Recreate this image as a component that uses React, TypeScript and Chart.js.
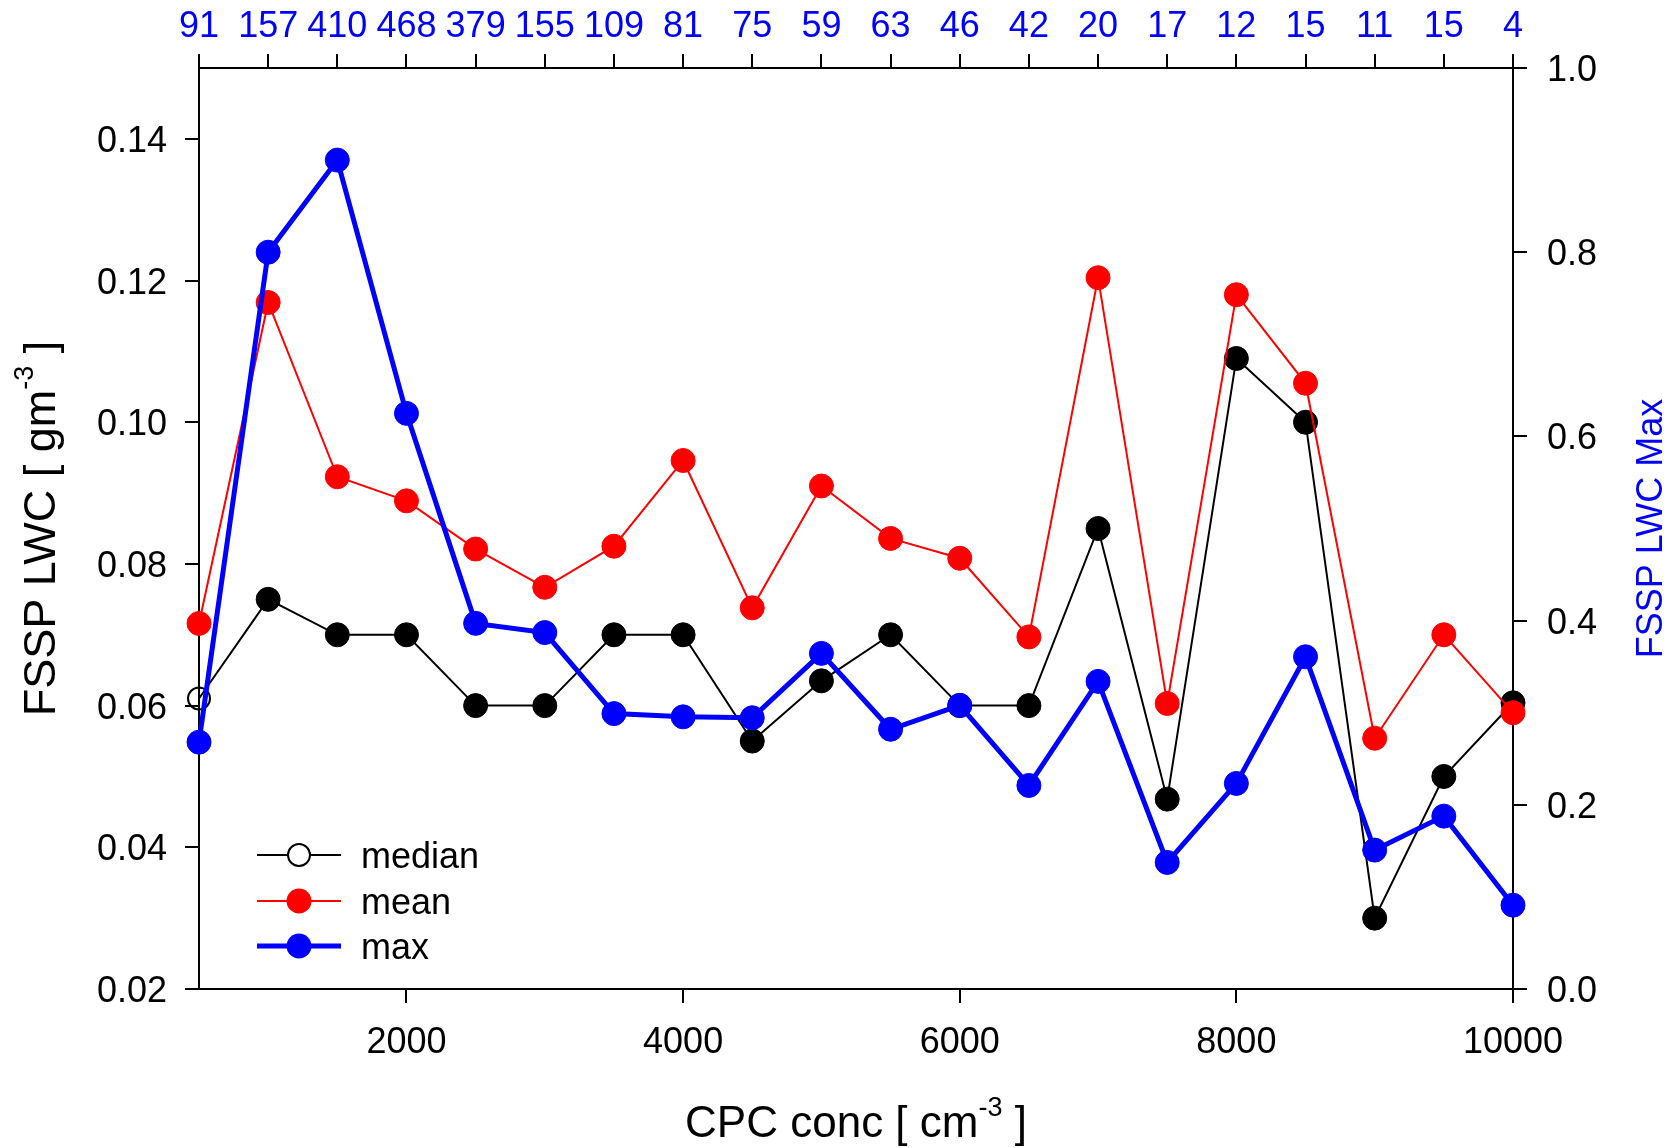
import { useEffect, useRef } from "react";
import { Chart, registerables } from "chart.js";

Chart.register(...registerables);

// CPC concentration bins (cm^-3)
const cpcConc = [
  500, 1000, 1500, 2000, 2500, 3000, 3500, 4000, 4500, 5000,
  5500, 6000, 6500, 7000, 7500, 8000, 8500, 9000, 9500, 10000,
];

// number of samples in each bin (top axis labels)
const sampleCounts = [91, 157, 410, 468, 379, 155, 109, 81, 75, 59, 63, 46, 42, 20, 17, 12, 15, 11, 15, 4];

// FSSP LWC statistics per bin (g m^-3)
const lwcMedian = [
  0.061, 0.075, 0.07, 0.07, 0.06, 0.06, 0.07, 0.07, 0.055, 0.0635,
  0.07, 0.06, 0.06, 0.085, 0.0468, 0.109, 0.1, 0.03, 0.05, 0.0604,
];
const lwcMean = [
  0.0716, 0.1169, 0.0923, 0.0889, 0.0821, 0.0767, 0.0825, 0.0946, 0.0738, 0.091,
  0.0836, 0.0808, 0.0697, 0.1204, 0.0603, 0.118, 0.1055, 0.0554, 0.07, 0.059,
];
const lwcMax = [
  0.268, 0.8, 0.9, 0.625, 0.397, 0.387, 0.299, 0.2955, 0.2945, 0.3644,
  0.282, 0.308, 0.221, 0.334, 0.1374, 0.2232, 0.3607, 0.1508, 0.1877, 0.091,
];

const bottomTicks = [2000, 4000, 6000, 8000, 10000];
const leftTicks = [0.02, 0.04, 0.06, 0.08, 0.1, 0.12, 0.14];
const rightTicks = [0, 0.2, 0.4, 0.6, 0.8, 1.0];

const FONT = '"Liberation Sans", Arial, Helvetica, sans-serif';
const BLACK = "#000000";
const RED = "#ff0000";
const BLUE = "#0000ff";

type Seg = { text: string; size: number; dy: number };

// draws text made of runs with different sizes / baseline shifts, centred on cx
function drawRich(ctx: CanvasRenderingContext2D, segs: Seg[], cx: number, baseY: number) {
  let total = 0;
  const widths = segs.map((s) => {
    ctx.font = `${s.size}px ${FONT}`;
    const w = ctx.measureText(s.text).width;
    total += w;
    return w;
  });
  let x = cx - total / 2;
  ctx.textAlign = "left";
  ctx.textBaseline = "alphabetic";
  segs.forEach((s, i) => {
    ctx.font = `${s.size}px ${FONT}`;
    ctx.fillText(s.text, x, baseY + s.dy);
    x += widths[i];
  });
}

const axisTextPlugin = {
  id: "axisText",
  afterDraw(chart: any) {
    const { ctx, chartArea, scales } = chart;
    const sx = scales.x;
    const sx2 = scales.x2;
    const sy = scales.y;
    const sy2 = scales.y2;
    ctx.save();

    // bottom tick labels
    ctx.fillStyle = BLACK;
    ctx.font = `36px ${FONT}`;
    ctx.textAlign = "center";
    ctx.textBaseline = "alphabetic";
    bottomTicks.forEach((v) => {
      ctx.fillText(String(v), sx.getPixelForValue(v), chartArea.bottom + 64);
    });

    // top labels: sample counts
    ctx.fillStyle = BLUE;
    cpcConc.forEach((v, i) => {
      ctx.fillText(String(sampleCounts[i]), sx2.getPixelForValue(v), chartArea.top - 31);
    });

    // left tick labels
    ctx.fillStyle = BLACK;
    ctx.textAlign = "right";
    leftTicks.forEach((v) => {
      ctx.fillText(v.toFixed(2), chartArea.left - 32, sy.getPixelForValue(v) + 13);
    });

    // right tick labels
    ctx.textAlign = "left";
    rightTicks.forEach((v) => {
      ctx.fillText(v.toFixed(1), chartArea.right + 34, sy2.getPixelForValue(v) + 13);
    });

    const cx = (chartArea.left + chartArea.right) / 2;
    const cy = (chartArea.top + chartArea.bottom) / 2;

    // x axis title
    drawRich(
      ctx,
      [
        { text: "CPC conc [ cm", size: 44, dy: 0 },
        { text: "-3", size: 27, dy: -21 },
        { text: " ]", size: 44, dy: 0 },
      ],
      cx,
      chartArea.bottom + 148
    );

    // left y axis title
    ctx.save();
    ctx.translate(chartArea.left - 144, cy);
    ctx.rotate(-Math.PI / 2);
    drawRich(
      ctx,
      [
        { text: "FSSP LWC [ gm", size: 45, dy: 0 },
        { text: "-3", size: 27, dy: -22 },
        { text: " ]", size: 45, dy: 0 },
      ],
      0,
      0
    );
    ctx.restore();

    // right y axis title
    ctx.save();
    ctx.fillStyle = BLUE;
    ctx.translate(chartArea.right + 149, cy);
    ctx.rotate(-Math.PI / 2);
    drawRich(ctx, [{ text: "FSSP LWC Max", size: 36, dy: 0 }], 0, 0);
    ctx.restore();

    // legend
    const items = [
      { label: "median", color: BLACK, width: 2, open: true, dy: -134 },
      { label: "mean", color: RED, width: 2, open: false, dy: -88 },
      { label: "max", color: BLUE, width: 5, open: false, dy: -43 },
    ];
    items.forEach((it) => {
      const ly = chartArea.bottom + it.dy;
      ctx.strokeStyle = it.color;
      ctx.lineWidth = it.width;
      ctx.beginPath();
      ctx.moveTo(chartArea.left + 58, ly);
      ctx.lineTo(chartArea.left + 142, ly);
      ctx.stroke();
      ctx.beginPath();
      if (it.open) {
        ctx.arc(chartArea.left + 100, ly, 11, 0, Math.PI * 2);
        ctx.fillStyle = "#ffffff";
        ctx.fill();
        ctx.lineWidth = 2;
        ctx.stroke();
      } else {
        ctx.arc(chartArea.left + 100, ly, 12.5, 0, Math.PI * 2);
        ctx.fillStyle = it.color;
        ctx.fill();
      }
      ctx.fillStyle = BLACK;
      ctx.font = `36px ${FONT}`;
      ctx.textAlign = "left";
      ctx.textBaseline = "alphabetic";
      ctx.fillText(it.label, chartArea.left + 162, ly + 13);
    });

    ctx.restore();
  },
};

const axisGrid = {
  drawOnChartArea: false,
  drawTicks: true,
  tickLength: 14,
  color: BLACK,
  lineWidth: 2,
};
const axisBorder = { display: true, color: BLACK, width: 2 };

export default function App() {
  const canvasRef = useRef<HTMLCanvasElement | null>(null);

  useEffect(() => {
    if (!canvasRef.current) return;
    const pts = (arr: number[]) => cpcConc.map((x, i) => ({ x, y: arr[i] }));

    const chart = new Chart(canvasRef.current, {
      type: "line",
      data: {
        datasets: [
          {
            label: "median",
            data: pts(lwcMedian),
            xAxisID: "x",
            yAxisID: "y",
            borderColor: BLACK,
            borderWidth: 2,
            pointRadius: cpcConc.map((_, i) => (i === 0 ? 11 : 12)),
            pointBorderWidth: cpcConc.map((_, i) => (i === 0 ? 2 : 1)),
            pointBackgroundColor: cpcConc.map((_, i) => (i === 0 ? "rgba(0,0,0,0)" : BLACK)),
            pointBorderColor: BLACK,
            tension: 0,
            clip: false,
            order: 3,
          },
          {
            label: "mean",
            data: pts(lwcMean),
            xAxisID: "x",
            yAxisID: "y",
            borderColor: RED,
            borderWidth: 2,
            pointRadius: 12,
            pointBorderWidth: 1,
            pointBackgroundColor: RED,
            pointBorderColor: RED,
            tension: 0,
            clip: false,
            order: 2,
          },
          {
            label: "max",
            data: pts(lwcMax),
            xAxisID: "x",
            yAxisID: "y2",
            borderColor: BLUE,
            borderWidth: 5,
            pointRadius: 12,
            pointBorderWidth: 1,
            pointBackgroundColor: BLUE,
            pointBorderColor: BLUE,
            tension: 0,
            clip: false,
            order: 1,
          },
        ],
      },
      options: {
        responsive: false,
        animation: false,
        events: [],
        devicePixelRatio: 1,
        layout: { padding: { left: 185, right: 142, top: 54, bottom: 145 } },
        plugins: {
          legend: { display: false },
          tooltip: { enabled: false },
        },
        scales: {
          x: {
            type: "linear",
            position: "bottom",
            min: 500,
            max: 10000,
            grid: axisGrid,
            border: axisBorder,
            ticks: { display: false },
            afterBuildTicks: (s: any) => {
              s.ticks = bottomTicks.map((value) => ({ value }));
            },
          },
          x2: {
            type: "linear",
            position: "top",
            min: 500,
            max: 10000,
            grid: axisGrid,
            border: axisBorder,
            ticks: { display: false },
            afterBuildTicks: (s: any) => {
              s.ticks = cpcConc.map((value) => ({ value }));
            },
          },
          y: {
            type: "linear",
            position: "left",
            min: 0.02,
            max: 0.15,
            grid: axisGrid,
            border: axisBorder,
            ticks: { display: false },
            afterBuildTicks: (s: any) => {
              s.ticks = leftTicks.map((value) => ({ value }));
            },
          },
          y2: {
            type: "linear",
            position: "right",
            min: 0,
            max: 1,
            grid: axisGrid,
            border: axisBorder,
            ticks: { display: false },
            afterBuildTicks: (s: any) => {
              s.ticks = rightTicks.map((value) => ({ value }));
            },
          },
        },
      } as any,
      plugins: [axisTextPlugin],
    });

    return () => chart.destroy();
  }, []);

  return (
    <div style={{ position: "absolute", left: 0, top: 0, width: 1669, height: 1148, background: "#ffffff" }}>
      <canvas ref={canvasRef} width={1669} height={1148} style={{ display: "block" }} />
    </div>
  );
}
